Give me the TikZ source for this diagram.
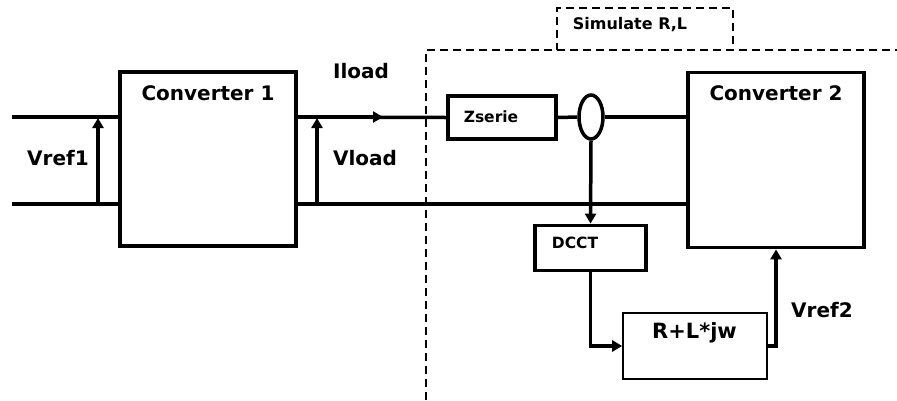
\documentclass[tikz,border=0pt]{standalone}
\usepackage{fontspec}
\setmainfont{DejaVu Sans}
\usetikzlibrary{arrows.meta,shapes.geometric}
\begin{document}
\begin{tikzpicture}[x=1pt,y=-1pt,
  wire/.style={line width=3.5pt},
  box/.style={draw,line width=3.8pt,inner sep=0pt,fill=white},
  thinbox/.style={draw,line width=1.6pt,inner sep=0pt,fill=white},
  arr/.style={line width=3.5pt,-{Triangle[length=10pt,width=11pt]}},
  biglbl/.style={font=\bfseries\fontsize{20}{20}\selectfont,inner sep=0pt},
  smlbl/.style={font=\bfseries\fontsize{15.5}{16}\selectfont,inner sep=0pt},
  dashline/.style={line width=2pt,dash pattern=on 8pt off 5pt}
]
\useasboundingbox (0,0) rectangle (897,400);
% dashed region
\draw[dashline] (426,400) -- (426,50) -- (897,50);
\node[draw,dashline,minimum width=176pt,minimum height=42pt,inner sep=0pt] (sim) at (645,29) {};
\node[font=\bfseries\fontsize{16}{16}\selectfont,inner sep=0pt] (simt) at (630,25) {Simulate R,L};
% boxes
\node[box,minimum width=176pt,minimum height=174pt] (c1) at (208,159) {};
\node[biglbl] (c1t) at (208,93) {Converter 1};
\node[box,minimum width=176pt,minimum height=175pt] (c2) at (776,160) {};
\node[biglbl] (c2t) at (776,93) {Converter 2};
\node[box,minimum width=108pt,minimum height=43pt] (z) at (502,117.5) {};
\node[smlbl] (zt) at (491,117) {Zserie};
\node[draw,ellipse,line width=3.5pt,minimum width=24pt,minimum height=44pt,inner sep=0pt] (ct) at (591,117) {};
\node[box,minimum width=111pt,minimum height=45pt] (dcct) at (590.5,248) {};
\node[smlbl] (dcctt) at (575,243) {DCCT};
\node[thinbox,minimum width=144pt,minimum height=66pt] (rl) at (695,346) {};
\node[font=\bfseries\fontsize{21}{21}\selectfont,inner sep=0pt] (rlt) at (694.5,333) {R+L*jw};
% wires
\coordinate (tl) at (12,117);
\coordinate (bl) at (12,204);
\coordinate (ia) at (383,117);
\draw[wire] (tl) -- (tl -| c1.west);
\draw[wire] (bl) -- (bl -| c1.west);
\draw[wire] (tl -| c1.east) -- (z.west);
\draw[arr] (tl -| c1.east) -- (ia);
\draw[wire] (z.east) -- (ct.west);
\draw[wire] (ct.east) -- (ct -| c2.west);
\draw[wire] (bl -| c1.east) -- (bl -| c2.west);
% voltage arrows
\coordinate (v1b) at (98,204);
\coordinate (v1t) at (98,118);
\coordinate (vlb) at (317,204);
\coordinate (vlt) at (317,118);
\draw[arr] (v1b) -- (v1t);
\draw[arr] (vlb) -- (vlt);
% measurement path
\draw[arr] (ct.south) -- (dcct.north);
\draw[arr] (dcct.south) |- (rl.west);
\draw[arr] (rl.east) -| (c2.south);
% labels
\node[biglbl] (lv1) at (58,158) {Vref1};
\node[biglbl] (lvl) at (365,158) {Vload};
\node[biglbl] (lil) at (361,71) {Iload};
\node[biglbl] (lv2) at (822,310) {Vref2};
\end{tikzpicture}
\end{document}
